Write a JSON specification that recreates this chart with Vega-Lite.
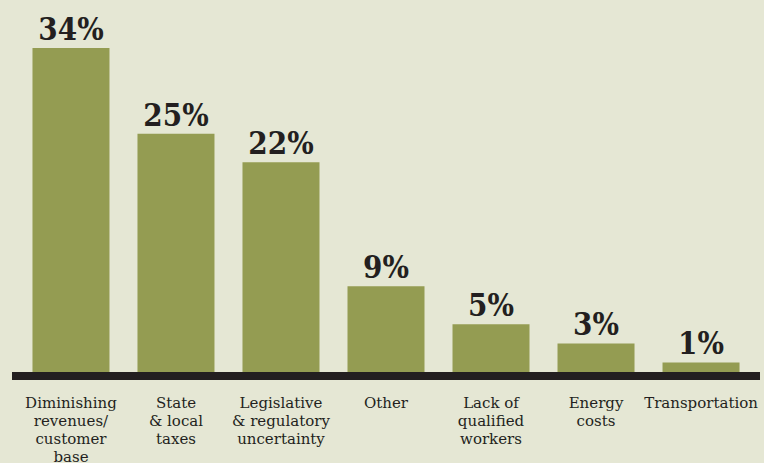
{
  "$schema": "https://vega.github.io/schema/vega-lite/v6.json",
  "width": 748,
  "height": 324,
  "autosize": "none",
  "padding": {"left": 12, "top": 48, "right": 4, "bottom": 91},
  "background": "#e5e7d4",
  "config": {"view": {"stroke": null}},
  "data": {
    "values": [
      {"category": "Diminishing|revenues/|customer|base", "value": 34, "label": "34%"},
      {"category": "State|& local|taxes", "value": 25, "label": "25%"},
      {"category": "Legislative|& regulatory|uncertainty", "value": 22, "label": "22%"},
      {"category": "Other", "value": 9, "label": "9%"},
      {"category": "Lack of|qualified|workers", "value": 5, "label": "5%"},
      {"category": "Energy|costs", "value": 3, "label": "3%"},
      {"category": "Transportation", "value": 1, "label": "1%"}
    ]
  },
  "encoding": {
    "x": {
      "field": "category",
      "type": "nominal",
      "sort": null,
      "scale": {"paddingInner": 0.2667, "paddingOuter": 0.195},
      "axis": {
        "title": null,
        "labelAngle": 0,
        "domain": false,
        "ticks": false,
        "labelExpr": "split(datum.label, '|')",
        "labelFont": "DejaVu Serif",
        "labelFontSize": 15,
        "labelColor": "#231f20",
        "labelLineHeight": 18,
        "labelBaseline": "top",
        "labelPadding": 23,
        "labelLimit": 0
      }
    },
    "y": {
      "field": "value",
      "type": "quantitative",
      "scale": {"domain": [0, 34], "nice": false, "zero": true},
      "axis": null
    }
  },
  "layer": [
    {"mark": {"type": "bar", "color": "#949c52"}},
    {
      "mark": {"type": "text", "baseline": "alphabetic", "dy": -8, "font": "DejaVu Serif Condensed, DejaVu Serif", "fontWeight": "bold", "fontSize": 31, "color": "#231f20"},
      "encoding": {"text": {"field": "label"}}
    },
    {
      "data": {"values": [{"v": 0}]},
      "mark": {"type": "rule", "color": "#231f20", "strokeWidth": 8, "yOffset": 4},
      "encoding": {"y": {"field": "v", "type": "quantitative"}, "x": null}
    }
  ]
}
